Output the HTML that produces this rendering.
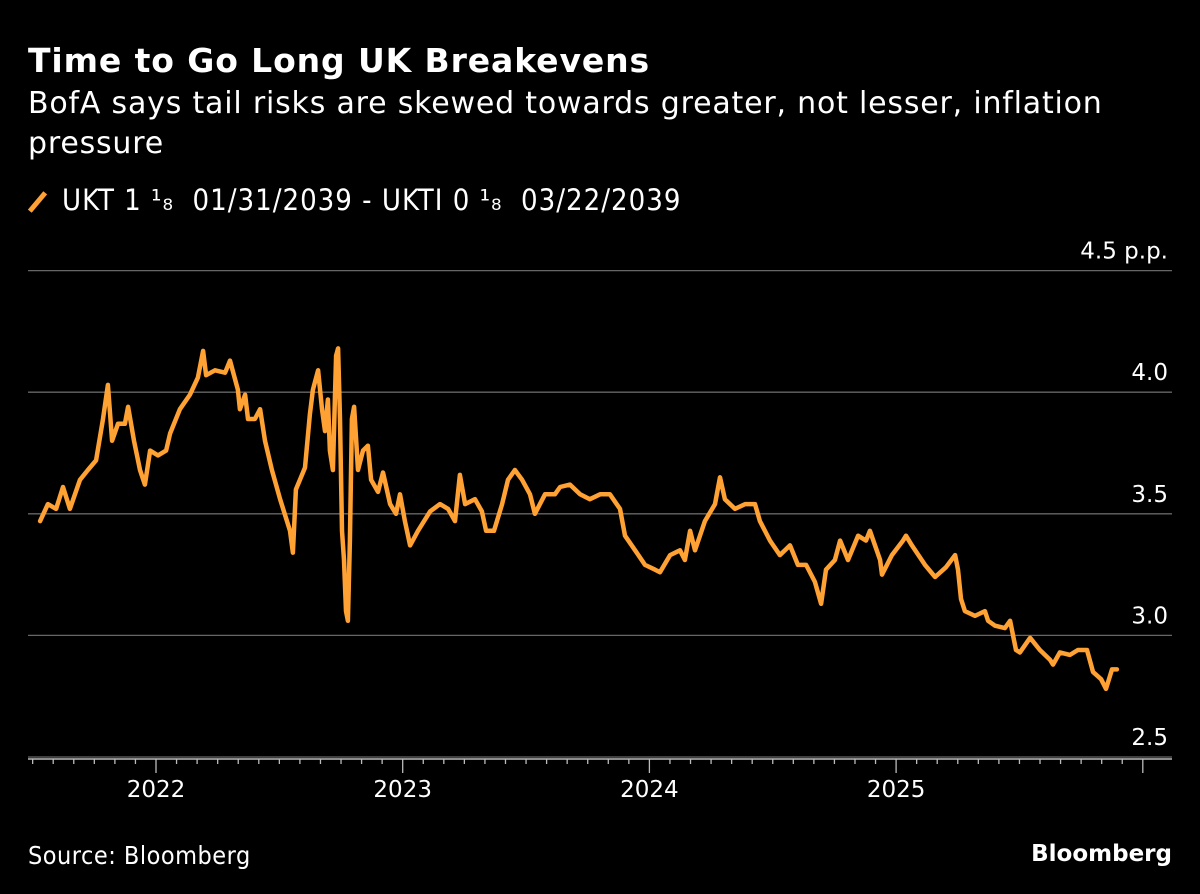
<!DOCTYPE html>
<html><head><meta charset="utf-8"><style>
body{margin:0;background:#000;width:1200px;height:894px;overflow:hidden;font-family:"DejaVu Sans","Liberation Sans",sans-serif;color:#fff}
.t{position:absolute;left:28px;top:41px;font-size:33px;font-weight:bold;letter-spacing:0.9px}
.s{position:absolute;left:28px;top:84px;font-size:30px;line-height:40px;width:1150px;letter-spacing:0.8px}
.l{position:absolute;left:62px;top:183px;font-size:29px;letter-spacing:1px;font-family:"DejaVu Sans Condensed","DejaVu Sans",sans-serif;white-space:pre}
.sw{position:absolute;left:35px;top:190px;width:5px;height:24px;background:#ffa133;transform:rotate(40deg)}
.src{position:absolute;left:28px;top:841px;font-size:25px;font-family:"DejaVu Sans Condensed","DejaVu Sans",sans-serif;letter-spacing:0.5px}
.bb{position:absolute;right:28px;top:841px;font-size:23px;font-weight:bold}
svg{position:absolute;left:0;top:0}
</style></head><body>
<div class="t">Time to Go Long UK Breakevens</div>
<div class="s">BofA says tail risks are skewed towards greater, not lesser, inflation pressure</div>
<div class="sw"></div>
<div class="l">UKT 1 ¹₈  01/31/2039 - UKTI 0 ¹₈  03/22/2039</div>
<svg id="c" width="1200" height="894"></svg>
<div class="src">Source: Bloomberg</div>
<div class="bb">Bloomberg</div>
<script>
const yTicks=[2.5,3.0,3.5,4.0,4.5];
const yTickLabels=["2.5","3.0","3.5","4.0","4.5 p.p."];
const xTicks=[2022,2023,2024,2025];
const xTickLabels=["2022","2023","2024","2025"];
const dates=[2021.530,2021.562,2021.595,2021.623,2021.651,2021.692,2021.724,2021.757,2021.785,2021.805,2021.822,2021.846,2021.874,2021.887,2021.911,2021.935,2021.955,2021.976,2022.008,2022.041,2022.057,2022.097,2022.138,2022.170,2022.191,2022.203,2022.239,2022.280,2022.300,2022.332,2022.340,2022.361,2022.373,2022.401,2022.422,2022.442,2022.470,2022.503,2022.543,2022.555,2022.567,2022.604,2022.624,2022.636,2022.657,2022.673,2022.685,2022.697,2022.705,2022.717,2022.730,2022.738,2022.746,2022.754,2022.762,2022.770,2022.778,2022.786,2022.794,2022.803,2022.819,2022.839,2022.859,2022.872,2022.900,2022.920,2022.949,2022.973,2022.989,2023.009,2023.030,2023.062,2023.111,2023.151,2023.184,2023.212,2023.232,2023.253,2023.293,2023.321,2023.338,2023.370,2023.403,2023.427,2023.455,2023.484,2023.516,2023.536,2023.577,2023.617,2023.638,2023.678,2023.719,2023.759,2023.800,2023.840,2023.881,2023.901,2023.942,2023.982,2024.023,2024.043,2024.084,2024.124,2024.144,2024.165,2024.185,2024.225,2024.266,2024.286,2024.306,2024.347,2024.388,2024.428,2024.448,2024.489,2024.529,2024.570,2024.602,2024.635,2024.671,2024.696,2024.716,2024.752,2024.773,2024.805,2024.846,2024.878,2024.894,2024.935,2024.943,2024.983,2025.028,2025.040,2025.064,2025.117,2025.158,2025.202,2025.239,2025.251,2025.263,2025.279,2025.320,2025.360,2025.373,2025.401,2025.441,2025.462,2025.486,2025.502,2025.543,2025.583,2025.624,2025.636,2025.664,2025.705,2025.737,2025.774,2025.798,2025.831,2025.851,2025.875,2025.895];
const values=[3.47,3.54,3.52,3.61,3.52,3.64,3.68,3.72,3.89,4.03,3.80,3.87,3.87,3.94,3.80,3.68,3.62,3.76,3.74,3.76,3.83,3.93,3.99,4.06,4.17,4.07,4.09,4.08,4.13,4.01,3.93,3.99,3.89,3.89,3.93,3.80,3.68,3.56,3.43,3.34,3.60,3.69,3.91,4.01,4.09,3.93,3.84,3.97,3.76,3.68,4.15,4.18,3.89,3.43,3.31,3.10,3.06,3.39,3.89,3.94,3.68,3.76,3.78,3.64,3.59,3.67,3.54,3.50,3.58,3.47,3.37,3.43,3.51,3.54,3.52,3.47,3.66,3.54,3.56,3.51,3.43,3.43,3.54,3.64,3.68,3.64,3.58,3.50,3.58,3.58,3.61,3.62,3.58,3.56,3.58,3.58,3.52,3.41,3.35,3.29,3.27,3.26,3.33,3.35,3.31,3.43,3.35,3.47,3.54,3.65,3.56,3.52,3.54,3.54,3.47,3.39,3.33,3.37,3.29,3.29,3.22,3.13,3.27,3.31,3.39,3.31,3.41,3.39,3.43,3.31,3.25,3.33,3.39,3.41,3.37,3.29,3.24,3.28,3.33,3.27,3.15,3.10,3.08,3.10,3.06,3.04,3.03,3.06,2.94,2.93,2.99,2.94,2.90,2.88,2.93,2.92,2.94,2.94,2.85,2.82,2.78,2.86,2.86];
const NS='http://www.w3.org/2000/svg';
const svg=document.getElementById('c');
const X=t=>156+(t-2022)*246.7;
const Y=v=>757-(v-2.5)*243.2;
const FF='"DejaVu Sans","Liberation Sans",sans-serif';
function mk(tag,attrs){const e=document.createElementNS(NS,tag);for(const k in attrs)e.setAttribute(k,attrs[k]);svg.appendChild(e);return e;}
yTicks.forEach((v,i)=>{
  const g=mk('line',{x1:28,x2:1172,y1:Y(v),y2:Y(v),stroke:'#666','stroke-width':1.3});
  
  
  const t=mk('text',{x:1168,y:Y(v)-12,'text-anchor':'end',fill:'#fff','font-size':23,'font-family':FF});
  t.textContent=yTickLabels[i];
  
  
});
const ax=mk('line',{x1:28,x2:1172,y1:759,y2:759,stroke:'#bbb','stroke-width':1.5});


for(let y=2021.5;y<2026;y+=1/12){
  const x=X(y);
  if(x<28||x>1172)continue;
  const isYear=Math.abs(y-Math.round(y))<0.01;
  const tk=mk('line',{x1:x,x2:x,y1:759,y2:isYear?773:764,stroke:'#bbb','stroke-width':1.3});
  
  
}
xTicks.forEach((v,i)=>{
  const t=mk('text',{x:X(v),y:797,'text-anchor':'middle',fill:'#fff','font-size':23,'font-family':FF});
  t.textContent=xTickLabels[i];
  
  
});
const d=dates.map((t,i)=>(i?'L':'M')+X(t).toFixed(1)+','+Y(values[i]).toFixed(1)).join('');
const p=mk('path',{d:d,fill:'none',stroke:'#ffa133','stroke-width':4.5,'stroke-linejoin':'round','stroke-linecap':'round'});


</script>
</body></html>
